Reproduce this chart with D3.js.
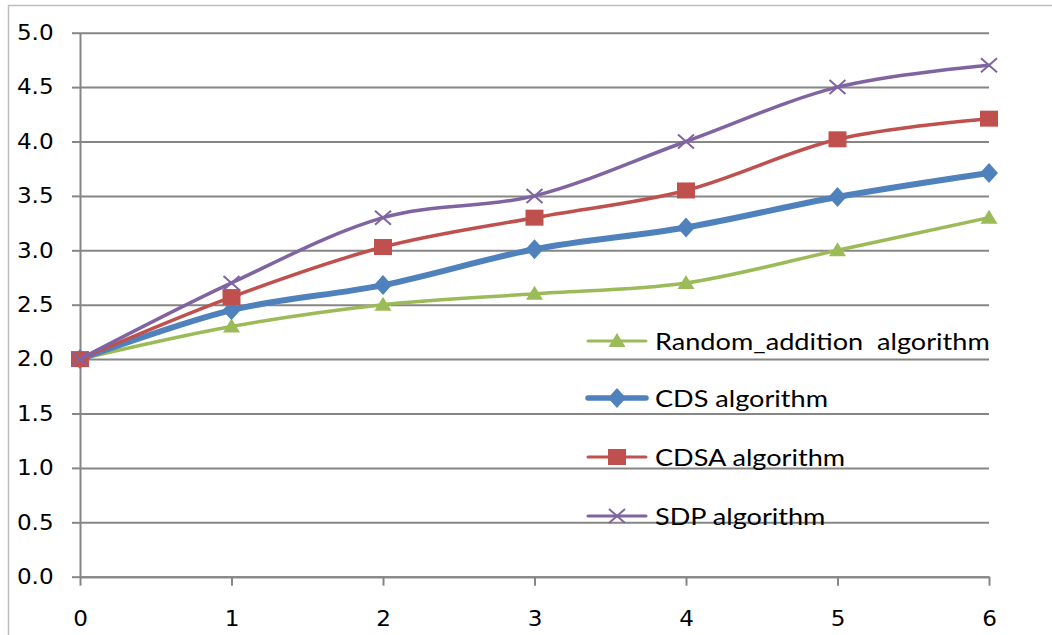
<!DOCTYPE html>
<html><head><meta charset="utf-8">
<script src="https://cdn.jsdelivr.net/npm/d3@7"></script>
<style>body{margin:0;background:#fff}svg{display:block}</style>
</head><body>
<script>
const xValues = [0, 1, 2, 3, 4, 5, 6];
const yTicks = [0, 0.5, 1, 1.5, 2, 2.5, 3, 3.5, 4, 4.5, 5];
const seriesNames = ["Random_addition  algorithm", "CDS algorithm", "CDSA algorithm", "SDP algorithm"];
const randomValues = [2.0, 2.3, 2.5, 2.6, 2.7, 3.0, 3.3];
const cdsValues = [2.0, 2.45, 2.68, 3.01, 3.21, 3.49, 3.71];
const cdsaValues = [2.0, 2.57, 3.03, 3.30, 3.55, 4.02, 4.21];
const sdpValues = [2.0, 2.7, 3.3, 3.5, 4.0, 4.5, 4.7];

const series = [
  {name: seriesNames[0], values: randomValues, color: "#9BBB59", width: 3.5, marker: "triangle"},
  {name: seriesNames[1], values: cdsValues, color: "#4F81BD", width: 6, marker: "diamond"},
  {name: seriesNames[2], values: cdsaValues, color: "#C0504D", width: 3.5, marker: "square"},
  {name: seriesNames[3], values: sdpValues, color: "#8064A2", width: 3.5, marker: "x"}
];

const W = 1052, H = 635;
const svg = d3.select("body").append("svg").attr("width", W).attr("height", H);

// outer chart border
svg.append("rect").attr("x", 8.5).attr("y", 5.5).attr("width", W + 10).attr("height", H + 10)
  .attr("fill", "none").attr("stroke", "#BDBDBD").attr("stroke-width", 1.5);

const x = d3.scaleLinear().domain([0, 6]).range([80, 989]);
const y = d3.scaleLinear().domain([0, 5]).range([576.7, 32.7]);

const gridColor = "#868686";
const tickFont = "'DejaVu Sans', Verdana, sans-serif";

// gridlines + y axis
const yAxis = d3.axisLeft(y).tickValues(yTicks).tickFormat(d3.format(".1f"))
  .tickSize(8).tickSizeOuter(0).tickPadding(16);
const gy = svg.append("g").attr("transform", `translate(${x(0)},0)`).call(yAxis);
gy.select(".domain").attr("stroke", gridColor).attr("stroke-width", 2);
gy.selectAll(".tick line").attr("stroke", gridColor).attr("stroke-width", 2);
gy.selectAll(".tick text").attr("font-family", tickFont).attr("font-size", 21).attr("fill", "#000")
  .attr("transform", "scale(1.1,1)");
gy.selectAll(".tick").append("line").attr("x1", 0).attr("x2", x(6) - x(0))
  .attr("stroke", gridColor).attr("stroke-width", 2);

// x axis
const xAxis = d3.axisBottom(x).tickValues(xValues).tickFormat(d3.format("d"))
  .tickSize(9).tickSizeOuter(0).tickPadding(25);
const gx = svg.append("g").attr("transform", `translate(0,${y(0)})`).call(xAxis);
gx.select(".domain").attr("stroke", gridColor).attr("stroke-width", 2);
gx.selectAll(".tick line").attr("stroke", gridColor).attr("stroke-width", 2);
gx.selectAll(".tick text").attr("font-family", tickFont).attr("font-size", 21).attr("fill", "#000")
  .attr("transform", "scale(1.1,1)");

function drawMarker(g, type, color, cx, cy) {
  if (type === "triangle") {
    g.append("path").attr("d", `M${cx},${cy-8}L${cx+8.5},${cy+6}L${cx-8.5},${cy+6}Z`).attr("fill", color);
  } else if (type === "diamond") {
    g.append("path").attr("d", `M${cx},${cy-10}L${cx+9},${cy}L${cx},${cy+10}L${cx-9},${cy}Z`).attr("fill", color);
  } else if (type === "square") {
    g.append("rect").attr("x", cx - 9).attr("y", cy - 8).attr("width", 18).attr("height", 16).attr("fill", color);
  } else {
    g.append("path").attr("d", `M${cx-8},${cy-7}L${cx+8},${cy+7}M${cx-8},${cy+7}L${cx+8},${cy-7}`)
      .attr("stroke", color).attr("stroke-width", 2).attr("fill", "none");
  }
}

const line = d3.line().x((d, i) => x(xValues[i])).y(d => y(d)).curve(d3.curveCatmullRom.alpha(0));

series.forEach(s => {
  const g = svg.append("g");
  g.append("path").attr("d", line(s.values)).attr("fill", "none").attr("stroke", s.color)
    .attr("stroke-width", s.width).attr("stroke-linecap", "round").attr("stroke-linejoin", "round");
  s.values.forEach((v, i) => drawMarker(g, s.marker, s.color, x(xValues[i]), y(v)));
});

// legend
const legendY = [341, 398, 457, 516];
const lg = svg.append("g");
series.forEach((s, i) => {
  const ly = legendY[i];
  lg.append("line").attr("x1", 588).attr("x2", 646).attr("y1", ly).attr("y2", ly)
    .attr("stroke", s.color).attr("stroke-width", s.width - 0.5).attr("stroke-linecap", "round");
  drawMarker(lg, s.marker, s.color, 617, ly);
  lg.append("text").attr("x", 0).attr("y", 0).attr("dy", "0.36em")
    .attr("transform", `translate(655,${ly}) scale(1.13,1)`)
    .attr("xml:space", "preserve").style("white-space", "pre")
    .attr("font-family", "Lato, 'Open Sans', sans-serif").attr("font-size", 24).attr("fill", "#000")
    .text(s.name);
});
</script>
</body></html>
